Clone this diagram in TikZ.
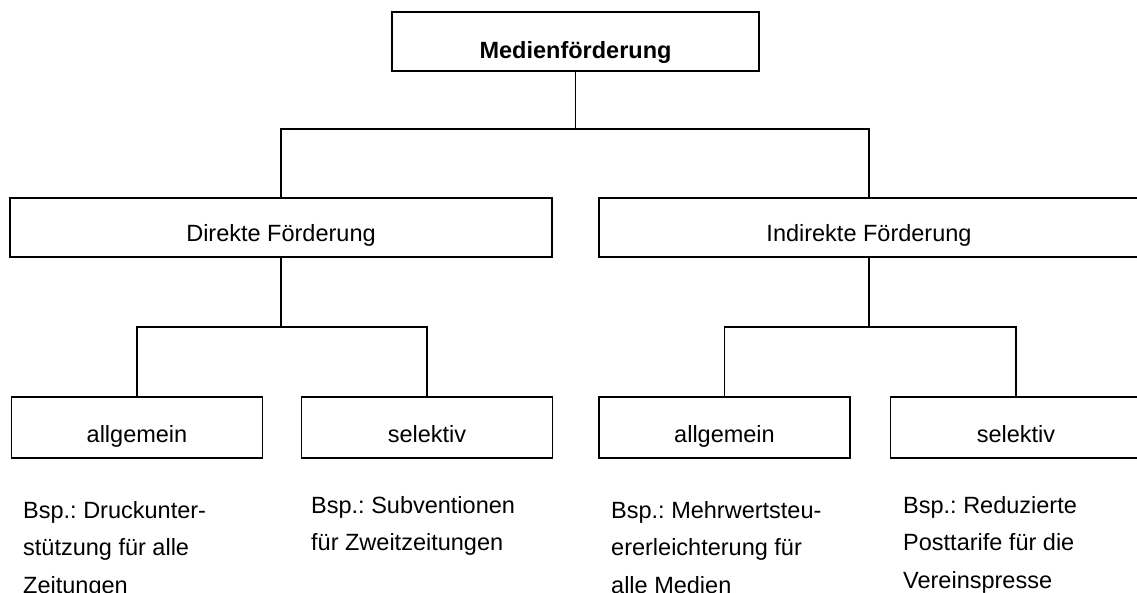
\documentclass[tikz,border=0pt]{standalone}
\usepackage{fontspec}
\setmainfont{Liberation Sans}
\frenchspacing
\begin{document}
\begin{tikzpicture}[x=1pt,y=-1pt,
  box/.style={draw, line width=1.8pt, rectangle, inner sep=0pt,
    text depth=0pt, font=\fontsize{23.5}{28}\selectfont},
  conn/.style={draw, line width=1.8pt},
  ex/.style={inner sep=0pt, align=left, anchor=north west,
    font=\fontsize{23.5}{37.5}\selectfont}]
\clip (0,0) rectangle (1137,593);
\fill[white] (0,0) rectangle (1137,593);
% top
\node[box, minimum width=367pt, minimum height=59pt, text height=33.5pt,
  font=\fontsize{23.5}{28}\selectfont\bfseries] (top) at (575.5,41.5) {Medienförderung};
% level 2
\node[box, minimum width=542pt, minimum height=59pt, text height=29pt] (dir) at (281,227.5) {Direkte Förderung};
\node[box, minimum width=540pt, minimum height=59pt, text height=29pt] (ind) at (869,227.5) {Indirekte Förderung};
% level 3
\node[box, minimum width=251pt, minimum height=61pt, text height=30pt] (a1) at (137,427.5) {allgemein};
\node[box, minimum width=251pt, minimum height=61pt, text height=30pt] (s1) at (427,427.5) {selektiv};
\node[box, minimum width=251pt, minimum height=61pt, text height=30pt] (a2) at (724.5,427.5) {allgemein};
\node[box, minimum width=251pt, minimum height=61pt, text height=30pt] (s2) at (1016,427.5) {selektiv};
% connectors
\draw[conn] (top.south) -- ++(0,57) -| (dir.north);
\draw[conn] (top.south) -- ++(0,57) -| (ind.north);
\draw[conn] (dir.south) -- ++(0,69) -| (a1.north);
\draw[conn] (dir.south) -- ++(0,69) -| (s1.north);
\draw[conn] (ind.south) -- ++(0,69) -| (a2.north);
\draw[conn] (ind.south) -- ++(0,69) -| (s2.north);
% examples
\node[ex] (e1) at (23,500.8) {Bsp.: Druckunter-\\stützung für alle\\Zeitungen};
\node[ex] (e2) at (311,495.8) {Bsp.: Subventionen\\für Zweitzeitungen};
\node[ex] (e3) at (611,500.8) {Bsp.: Mehrwertsteu-\\ererleichterung für\\alle Medien};
\node[ex] (e4) at (903,495.8) {Bsp.: Reduzierte\\Posttarife für die\\Vereinspresse};
\end{tikzpicture}
\end{document}
